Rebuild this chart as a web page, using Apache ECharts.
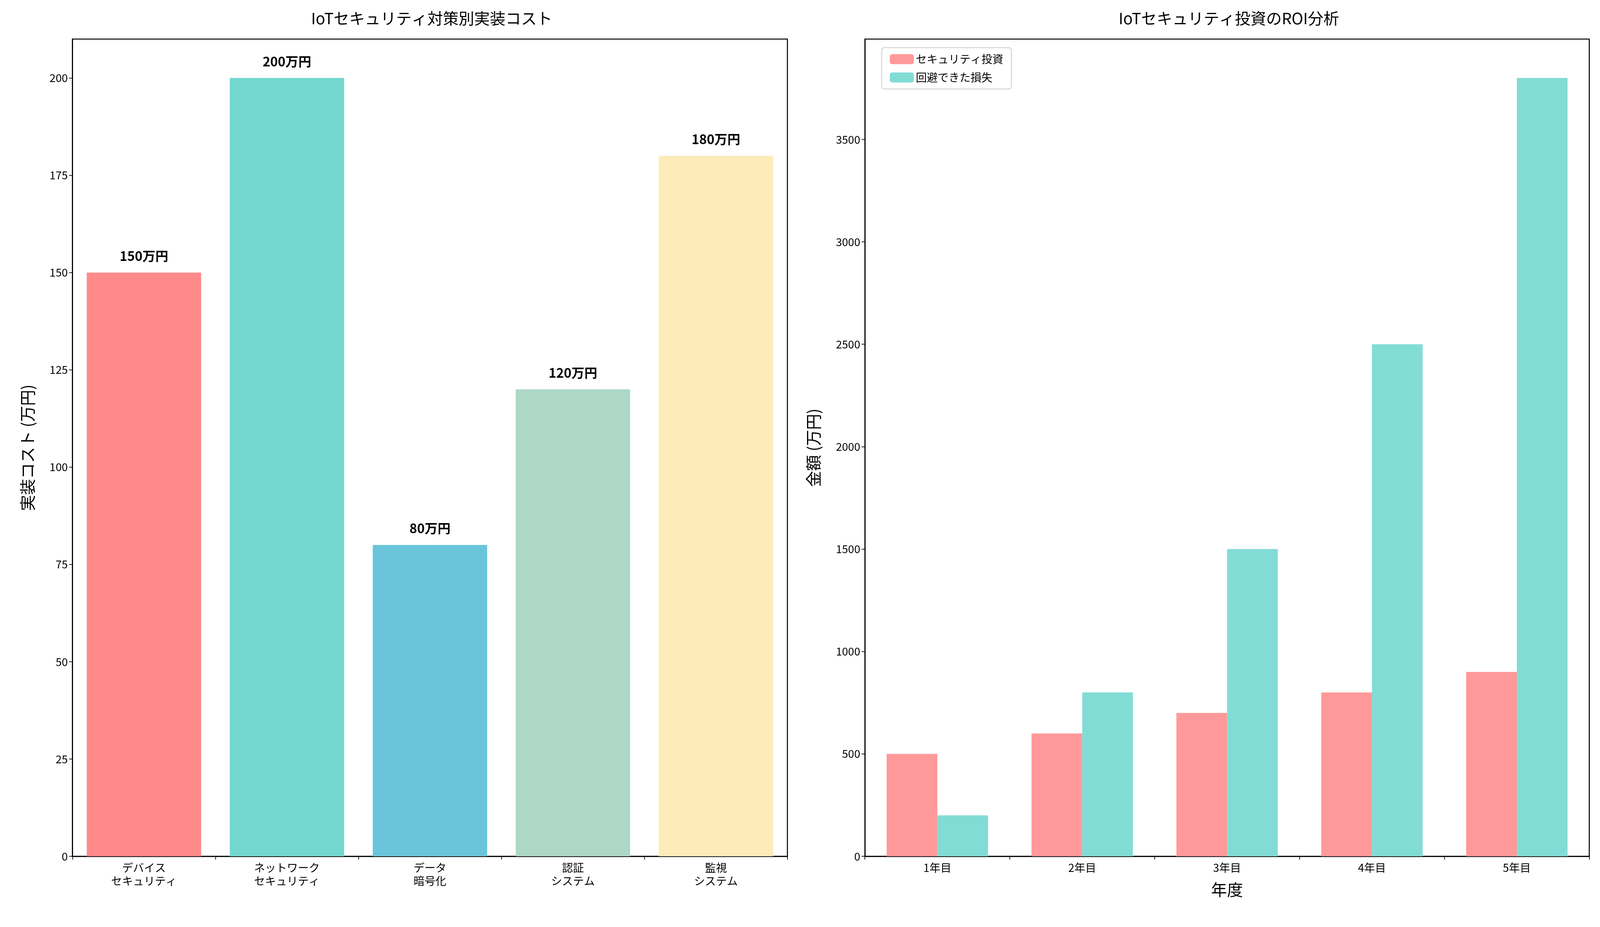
<!DOCTYPE html>
<html><head><meta charset="utf-8">
<script src="https://cdn.jsdelivr.net/npm/echarts@6/dist/echarts.min.js"></script>
<style>html,body{margin:0;padding:0;background:#fff;overflow:hidden}#c{width:100vw;height:100vh}</style>
</head><body><div id="c"></div>
<script>
const costCategories = ['デバイス\nセキュリティ','ネットワーク\nセキュリティ','データ\n暗号化','認証\nシステム','監視\nシステム'];
const costValues = [150,200,80,120,180];
const costColors = ['#FF8A8A','#74D7D0','#6AC5DA','#ADD8C5','#FEEBBA'];
const years = ['1年目','2年目','3年目','4年目','5年目'];
const investment = [500,600,700,800,900];
const avoidedLoss = [200,800,1500,2500,3800];

const W = window.innerWidth, H = window.innerHeight;
const sx = W/4769, sy = H/2373, s = Math.min(sx, sy);
const F = 'Noto Sans CJK JP';
const chart = echarts.init(document.getElementById('c'));
const fs = v => Math.round(v*s);
function axisCommon(extra){
  return Object.assign({
    axisLine:{show:true,lineStyle:{color:'#000',width:Math.max(1,3*s)}},
    axisTick:{show:true,length:10*s,lineStyle:{color:'#000',width:Math.max(1,2*s)}},
    axisLabel:{color:'#000',fontSize:fs(33),fontFamily:F,margin:14*s,lineHeight:fs(40)},
    splitLine:{show:false}
  }, extra);
}
chart.setOption({
  animation:false,
  textStyle:{fontFamily:F},
  title:[
    {text:'IoTセキュリティ対策別実装コスト',left:1281*sx,top:22*sy,textAlign:'center',textStyle:{fontSize:fs(46),fontWeight:'normal',color:'#000',fontFamily:F}},
    {text:'IoTセキュリティ投資のROI分析',left:3657*sx,top:22*sy,textAlign:'center',textStyle:{fontSize:fs(46),fontWeight:'normal',color:'#000',fontFamily:F}}
  ],
  legend:{left:2628*sx,top:122*sy,orient:'vertical',itemWidth:72*s,itemHeight:30*s,itemGap:22*s,
    padding:[18*s,24*s],borderColor:'#d5d5d5',borderWidth:Math.max(1,3*s),borderRadius:8*s,
    textStyle:{fontSize:fs(33),fontFamily:F,color:'#000'},data:['セキュリティ投資','回避できた損失']},
  grid:[
    {left:216*sx,right:(4769-2347)*sx,top:100*sy,bottom:(2373-2192)*sy,show:true,borderColor:'#000',borderWidth:Math.max(1,3*s)},
    {left:2578*sx,right:(4769-4737)*sx,top:100*sy,bottom:(2373-2192)*sy,show:true,borderColor:'#000',borderWidth:Math.max(1,3*s)}
  ],
  xAxis:[
    axisCommon({type:'category',gridIndex:0,data:costCategories}),
    axisCommon({type:'category',gridIndex:1,data:years,name:'年度',nameLocation:'middle',nameGap:76*s,nameTextStyle:{fontSize:fs(48),fontFamily:F,color:'#000'}})
  ],
  yAxis:[
    axisCommon({type:'value',gridIndex:0,min:0,max:210,interval:25,name:'実装コスト (万円)',nameLocation:'middle',nameGap:110*s,nameTextStyle:{fontSize:fs(48),fontFamily:F,color:'#000'},
      axisLabel:{color:'#000',fontSize:fs(33),fontFamily:F,margin:14*s,showMaxLabel:false,formatter:v=>String(v)}}),
    axisCommon({type:'value',gridIndex:1,min:0,max:3990,interval:500,name:'金額 (万円)',nameLocation:'middle',nameGap:130*s,nameTextStyle:{fontSize:fs(48),fontFamily:F,color:'#000'},
      axisLabel:{color:'#000',fontSize:fs(33),fontFamily:F,margin:14*s,showMaxLabel:false,formatter:v=>String(v)}})
  ],
  series:[
    {type:'bar',xAxisIndex:0,yAxisIndex:0,barWidth:'80%',
     data:costValues.map((v,i)=>({value:v,itemStyle:{color:costColors[i]}})),
     label:{show:true,position:'top',distance:30*s,formatter:p=>p.value+'万円',fontSize:fs(38),fontWeight:'bold',color:'#000',fontFamily:F}},
    {name:'セキュリティ投資',type:'bar',xAxisIndex:1,yAxisIndex:1,data:investment,barWidth:'35%',barGap:'0%',itemStyle:{color:'#FF9999'}},
    {name:'回避できた損失',type:'bar',xAxisIndex:1,yAxisIndex:1,data:avoidedLoss,barWidth:'35%',barGap:'0%',itemStyle:{color:'#82DCD6'}}
  ]
});
window.addEventListener('resize',()=>chart.resize());
</script></body></html>
